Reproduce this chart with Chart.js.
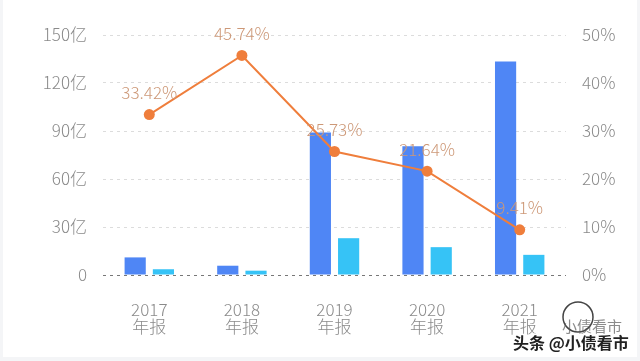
<!DOCTYPE html>
<html>
<head>
<meta charset="utf-8">
<script src="https://cdn.jsdelivr.net/npm/chart.js@4/dist/chart.umd.min.js"></script>
<style>
  html, body { margin: 0; padding: 0; background: #ffffff; }
  #wrap { width: 640px; height: 361px; position: relative; }
</style>
</head>
<body>
<div id="wrap"><canvas id="c" width="640" height="361"></canvas></div>
<script>
const categories = [["2017", "年报"], ["2018", "年报"], ["2019", "年报"], ["2020", "年报"], ["2021", "年报"]];
const seriesA = [11, 5.8, 89, 80.5, 133.5];      // 亿 (blue)
const seriesB = [3.6, 2.7, 23, 17.4, 12.6];      // 亿 (cyan)
const ratioPct = [33.42, 45.74, 25.73, 21.64, 9.41]; // %
const leftTicks = [0, 30, 60, 90, 120, 150];
const rightTicks = [0, 10, 20, 30, 40, 50];

const FONT = '"Noto Sans CJK SC", "Noto Sans", sans-serif';

const labelPlugin = {
  id: 'pctLabels',
  beforeDraw(chart) {
    const ctx = chart.ctx;
    ctx.save();
    ctx.fillStyle = '#f4f5f7';
    ctx.fillRect(0, 0, chart.width, chart.height);
    ctx.fillStyle = '#ffffff';
    ctx.fillRect(3, 0, chart.width - 6, chart.height - 4);
    ctx.restore();
  },
  afterDatasetsDraw(chart) {
    const ctx = chart.ctx;
    const idx = chart.data.datasets.findIndex(d => d.type === 'line');
    const meta = chart.getDatasetMeta(idx);
    ctx.save();
    ctx.font = '300 17px ' + FONT;
    ctx.fillStyle = '#cd9877';
    ctx.textAlign = 'center';
    ctx.textBaseline = 'middle';
    meta.data.forEach((pt, i) => {
      ctx.fillText(ratioPct[i].toFixed(2) + '%', pt.x, pt.y - 22);
    });
    ctx.restore();
  },
  afterDraw(chart) {
    const ctx = chart.ctx;
    ctx.save();
    ctx.beginPath();
    ctx.arc(578, 317, 15, 0, Math.PI * 2);
    ctx.strokeStyle = '#444';
    ctx.lineWidth = 1.5;
    ctx.stroke();
    ctx.font = '15px ' + FONT;
    ctx.fillStyle = 'rgba(90,90,90,0.7)';
    ctx.textBaseline = 'middle';
    ctx.fillText('小债看市', 562, 326);
    ctx.font = 'bold 16px ' + FONT;
    ctx.lineWidth = 3;
    ctx.strokeStyle = '#ffffff';
    ctx.strokeText('头条 @小债看市', 513, 343);
    ctx.fillStyle = '#222';
    ctx.fillText('头条 @小债看市', 513, 343);
    ctx.restore();
  }
};

new Chart(document.getElementById('c'), {
  data: {
    labels: categories,
    datasets: [
      {
        type: 'line',
        data: ratioPct,
        yAxisID: 'y1',
        borderColor: '#ef7e3c',
        backgroundColor: '#ef7e3c',
        borderWidth: 2,
        pointRadius: 5.5,
        pointBorderWidth: 0,
        pointBackgroundColor: '#ef7e3c',
        tension: 0,
        order: 0
      },
      {
        type: 'bar',
        data: seriesA,
        yAxisID: 'y',
        backgroundColor: '#4f86f5',
        categoryPercentage: 0.61,
        barPercentage: 0.75,
        order: 1
      },
      {
        type: 'bar',
        data: seriesB,
        yAxisID: 'y',
        backgroundColor: '#36c3f6',
        categoryPercentage: 0.61,
        barPercentage: 0.75,
        order: 2
      }
    ]
  },
  options: {
    responsive: false,
    animation: false,
    devicePixelRatio: 1,
    layout: { padding: { top: 35, bottom: 0, left: 0, right: 0 } },
    plugins: { legend: { display: false }, tooltip: { enabled: false } },
    scales: {
      x: {
        grid: { display: false, drawTicks: false },
        border: { display: false },
        ticks: {
          color: '#8a8a8a',
          font: { size: 17, family: FONT, lineHeight: 1, weight: 300 },
          padding: 26.5,
          maxRotation: 0
        },
        afterFit(s) { s.height = 86; }
      },
      y: {
        position: 'left',
        min: 0, max: 150,
        afterBuildTicks(s) { s.ticks = leftTicks.map(v => ({ value: v })); },
        grid: {
          drawTicks: false,
          color: c => (c.tick && c.tick.value === 0) ? '#777777' : '#dcdcdc',
          lineWidth: 1
        },
        border: { display: false, dash: [3, 4] },
        ticks: {
          color: '#8a8a8a',
          font: { size: 17, family: FONT, weight: 300 },
          padding: 16,
          callback: v => v === 0 ? '0' : v + '亿'
        },
        afterFit(s) { s.width = 103; }
      },
      y1: {
        position: 'right',
        min: 0, max: 50,
        afterBuildTicks(s) { s.ticks = rightTicks.map(v => ({ value: v })); },
        grid: { drawOnChartArea: false, drawTicks: false },
        border: { display: false },
        ticks: {
          color: '#8a8a8a',
          font: { size: 17, family: FONT, weight: 300 },
          padding: 16,
          callback: v => v + '%'
        },
        afterFit(s) { s.width = 74; }
      }
    }
  },
  plugins: [labelPlugin]
});
</script>
</body>
</html>
